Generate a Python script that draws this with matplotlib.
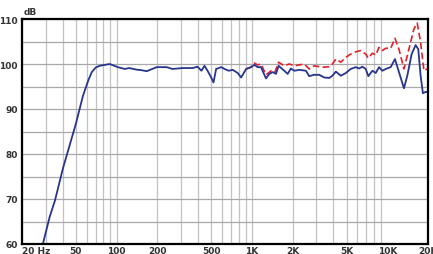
import numpy as np
import matplotlib.pyplot as plt
from matplotlib.ticker import FixedLocator, NullFormatter

# frequency response
freq_blue = [28, 32, 35, 40.3, 50, 56.4, 62, 65.6, 70, 75, 89, 102, 115, 124, 143,
             148, 167, 198, 234, 259, 307, 364, 396, 424, 446, 470, 500, 520,
             544, 593, 627, 674, 721, 785, 832, 906, 986, 1042, 1103, 1167,
             1270, 1345, 1423, 1506, 1574, 1734, 1836, 1941, 2056, 2239, 2506,
             2650, 2884, 3141, 3420, 3724, 3936, 4169, 4539, 4943, 5370, 5848,
             6194, 6546, 6934, 7247, 7762, 8222, 8690, 9200, 9750, 10600,
             11400, 12200, 13280, 14060, 15140, 16200, 16950, 17640, 18340,
             19190, 20000]
db_blue = [59.0, 66.0, 69.6, 77.0, 86.7, 92.9, 96.5, 98.2, 99.2, 99.6, 100.0,
           99.3, 98.9, 99.1, 98.7,
           98.7, 98.4, 99.3, 99.3, 98.9, 99.1, 99.1, 99.4, 98.5, 99.6, 98.5,
           97.0, 95.9, 98.9, 99.3, 98.9, 98.5, 98.7, 98.0, 97.0, 98.9, 99.3,
           99.8, 99.3, 99.3, 96.8, 97.8, 98.2, 97.8, 99.6, 98.5, 97.8, 99.0,
           98.5, 98.7, 98.5, 97.3, 97.6, 97.6, 97.0, 96.9, 97.4, 98.3, 97.4,
           98.0, 98.9, 99.3, 99.0, 99.4, 98.9, 97.3, 98.5, 98.0, 99.3, 98.5,
           98.9, 99.3, 101.1, 98.2, 94.6, 97.4, 102.2, 104.2, 103.3, 97.4,
           93.5, 93.8, 93.7]

freq_red = [906, 986, 1042, 1103, 1167, 1270, 1400, 1480, 1574, 1734, 1888,
            2056, 2239, 2432, 2650, 2884, 3141, 3420, 3724, 3936, 4169, 4539,
            4943, 5370, 5848, 6368, 6934, 7247, 7762, 8222, 8690, 9200, 9750,
            10600, 11400, 12200, 13280, 14450, 15740, 16650, 17640, 18660,
            19720]
db_red = [98.9, 99.3, 100.2, 99.8, 100.0, 97.6, 98.6, 98.2, 100.4, 99.6, 100.0,
          99.6, 99.8, 100.0, 98.9, 99.6, 99.4, 99.3, 99.4, 100.0, 101.1, 100.4,
          101.5, 102.2, 102.7, 103.0, 102.2, 101.3, 102.4, 102.0, 103.7, 103.0,
          103.5, 103.5, 105.7, 103.3, 98.9, 103.3, 107.8, 109.1, 104.8, 98.5,
          98.9]

x_ticks = [20, 50, 100, 200, 500, 1000, 2000, 5000, 10000, 20000]
x_labels = ["20 Hz", "50", "100", "200", "500", "1K", "2K", "5K", "10K", "20K"]
y_ticks = [60, 70, 80, 90, 100, 110]

grid_x = [m * 10 ** e for e in (1, 2, 3) for m in range(1, 10)] + [20000]
grid_x = [g for g in grid_x if 20 <= g <= 20000]

font = ['Liberation Sans Narrow', 'DejaVu Sans']
label_color = '#333333'

fig = plt.figure(figsize=(4.33, 2.55), dpi=100)
ax = fig.add_axes([22 / 433, 10 / 255, 406 / 433, 225 / 255])

ax.set_xscale('log')
ax.set_xlim(20, 20000)
ax.set_ylim(60, 110)

for g in grid_x:
    ax.axvline(g, color='#c2c2c2', lw=0.9, zorder=1)
for h in range(60, 111, 5):
    ax.axhline(h, color='#a8a8a8', lw=0.9, zorder=1)

ax.plot(freq_red, db_red, color='#e3202a', lw=1.2, ls=(0, (4, 2)), zorder=3)
ax.plot(freq_blue, db_blue, color='#27358c', lw=1.3, zorder=4)

ax.xaxis.set_minor_locator(FixedLocator([]))
ax.xaxis.set_minor_formatter(NullFormatter())
ax.set_xticks(x_ticks)
ax.set_xticklabels(x_labels)
ax.set_yticks(y_ticks)
ax.tick_params(length=0, pad=1.5, labelsize=6.5, labelcolor=label_color)
ax.tick_params(axis='y', pad=3)
for lab in ax.get_xticklabels() + ax.get_yticklabels():
    lab.set_family(font)
    lab.set_fontweight('bold')
ax.get_xticklabels()[0].set_horizontalalignment('left')

for s in ax.spines.values():
    s.set_color('black')
    s.set_linewidth(1.6)
    s.set_zorder(5)

ax.text(0.005, 1.012, "dB", transform=ax.transAxes, ha='left', va='bottom',
        fontsize=6.5, fontweight='bold', color=label_color, family=font)

plt.savefig("out.png", dpi=100)
